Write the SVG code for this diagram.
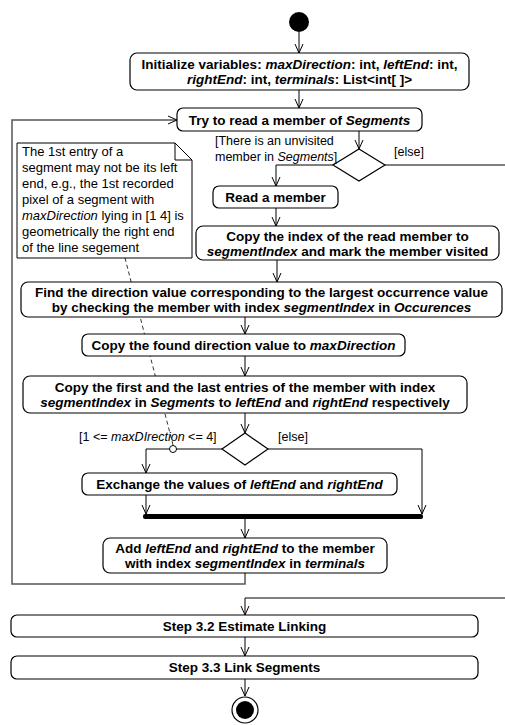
<svg xmlns="http://www.w3.org/2000/svg" width="505" height="725" viewBox="0 0 505 725">
<defs>
<marker id="arr" markerWidth="10" markerHeight="10" refX="9" refY="5" orient="auto" markerUnits="userSpaceOnUse">
<path d="M0,1 L9,5 L0,9" fill="none" stroke="#000" stroke-width="1"/>
</marker>
<style>
.box{fill:#fff;stroke:#000;stroke-width:1.2}
.t{font-family:"Liberation Sans",Arial,sans-serif;font-size:13.5px;font-weight:bold;text-anchor:middle;fill:#000}
.n{font-family:"Liberation Sans",Arial,sans-serif;font-size:13px;fill:#000}
.l{font-family:"Liberation Sans",Arial,sans-serif;font-size:12.5px;fill:#000}
.c{fill:none;stroke:#000;stroke-width:1}
.g{fill:none;stroke:#555;stroke-width:1.5}
.d{fill:none;stroke:#000;stroke-width:0.8;stroke-dasharray:4,3}
.dm{fill:#fff;stroke:#000;stroke-width:1.2}
</style>
</defs>
<rect width="505" height="725" fill="#fff"/>

<g id="connectors">
<path class="d" d="M125,258 L173,445"/>
<path class="c" d="M299,32 V53" marker-end="url(#arr)"/>
<path class="c" d="M299,90 V108" marker-end="url(#arr)"/>
<path class="c" d="M359,131 V149" marker-end="url(#arr)"/>
<path class="c" d="M333,165 H276 V186" marker-end="url(#arr)"/>
<path class="c" d="M385,165 H505"/>
<path class="c" d="M276,208 V226" marker-end="url(#arr)"/>
<path class="c" d="M277,260 V282" marker-end="url(#arr)"/>
<path class="c" d="M245,317 V334" marker-end="url(#arr)"/>
<path class="c" d="M245,356 V376" marker-end="url(#arr)"/>
<path class="c" d="M245,413 V433" marker-end="url(#arr)"/>
<path class="c" d="M222,449 H146 V473" marker-end="url(#arr)"/>
<path class="c" d="M268,449 H422 V514" marker-end="url(#arr)"/>
<path class="c" d="M146,495 V514" marker-end="url(#arr)"/>
<path class="c" d="M245,519 V538" marker-end="url(#arr)"/>
<path class="g" d="M245,573 V584 H12 V120 H150"/>
<path class="c" d="M150,120 H177" marker-end="url(#arr)"/>
<path class="c" d="M505,598 H245 V615" marker-end="url(#arr)"/>
<path class="c" d="M245,637 V656" marker-end="url(#arr)"/>
<path class="c" d="M245,679 V696" marker-end="url(#arr)"/>
<circle cx="173" cy="449" r="3.5" fill="#fff" stroke="#000" stroke-width="1"/>
</g>

<g id="start"><circle cx="299" cy="22" r="10" fill="#000"/></g>

<g id="init">
<rect class="box" x="130" y="53" width="339" height="37" rx="7"/>
<text class="t" x="299.5" y="69">Initialize variables: <tspan font-style="italic">maxDirection</tspan>: int, <tspan font-style="italic">leftEnd</tspan>: int,</text>
<text class="t" x="299.5" y="84"><tspan font-style="italic">rightEnd</tspan>: int, <tspan font-style="italic">terminals</tspan>: List&lt;int[ ]&gt;</text>
</g>

<g id="try">
<rect class="box" x="177" y="108" width="245" height="23" rx="6"/>
<text class="t" x="299.5" y="124.5">Try to read a member of <tspan font-style="italic">Segments</tspan></text>
</g>

<g id="note">
<path d="M17,143 H175 L192,160 V258 H17 Z" fill="#fff" stroke="#000" stroke-width="1"/>
<path d="M175,143 V160 H192" fill="none" stroke="#000" stroke-width="1"/>
<text class="n" x="22" y="156">The 1st entry of a</text>
<text class="n" x="22" y="172">segment may not be its left</text>
<text class="n" x="22" y="188">end, e.g., the 1st recorded</text>
<text class="n" x="22" y="204">pixel of a segment with</text>
<text class="n" x="22" y="220"><tspan font-style="italic">maxDirection</tspan> lying in [1 4] is</text>
<text class="n" x="22" y="236">geometrically the right end</text>
<text class="n" x="22" y="252">of the line segement</text>
</g>

<g id="decision1">
<path class="dm" d="M359,149 L385,165 L359,181 L333,165 Z"/>
<text class="l" x="215" y="145">[There is an unvisited</text>
<text class="l" x="215" y="161">member in <tspan font-style="italic">Segments</tspan>]</text>
<text class="l" x="394" y="156">[else]</text>
</g>

<g id="read">
<rect class="box" x="213" y="186" width="125" height="22" rx="6"/>
<text class="t" x="275.5" y="202">Read a member</text>
</g>

<g id="copyindex">
<rect class="box" x="196" y="226" width="303" height="34" rx="7"/>
<text class="t" x="347.5" y="241">Copy the index of the read member to</text>
<text class="t" x="347.5" y="256"><tspan font-style="italic">segmentIndex</tspan> and mark the member visited</text>
</g>

<g id="find">
<rect class="box" x="21" y="282" width="481" height="35" rx="7"/>
<text class="t" x="261.5" y="297">Find the direction value corresponding to the largest occurrence value</text>
<text class="t" x="261.5" y="312">by checking the member with index <tspan font-style="italic">segmentIndex</tspan> in <tspan font-style="italic">Occurences</tspan></text>
</g>

<g id="copyfound">
<rect class="box" x="82" y="334" width="323" height="22" rx="6"/>
<text class="t" x="243.5" y="350">Copy the found direction value to <tspan font-style="italic">maxDirection</tspan></text>
</g>

<g id="copyfirst">
<rect class="box" x="23" y="376" width="444" height="37" rx="7"/>
<text class="t" x="245" y="392">Copy the first and the last entries of the member with index</text>
<text class="t" x="245" y="407"><tspan font-style="italic">segmentIndex</tspan> in <tspan font-style="italic">Segments</tspan> to <tspan font-style="italic">leftEnd</tspan> and <tspan font-style="italic">rightEnd</tspan> respectively</text>
</g>

<g id="decision2">
<path class="dm" d="M245,433 L268,449 L245,465 L222,449 Z"/>
<text class="l" x="79" y="441">[1 &lt;= <tspan font-style="italic">maxDIrection</tspan> &lt;= 4]</text>
<text class="l" x="278" y="441">[else]</text>
</g>

<g id="exchange">
<rect class="box" x="82" y="473" width="315" height="22" rx="6"/>
<text class="t" x="239.5" y="489">Exchange the values of <tspan font-style="italic">leftEnd</tspan> and <tspan font-style="italic">rightEnd</tspan></text>
</g>

<g id="join">
<rect x="143" y="514" width="280" height="5" rx="2" fill="#000"/>
</g>

<g id="add">
<rect class="box" x="103" y="538" width="284" height="35" rx="7"/>
<text class="t" x="245" y="553">Add <tspan font-style="italic">leftEnd</tspan> and <tspan font-style="italic">rightEnd</tspan> to the member</text>
<text class="t" x="245" y="568">with index <tspan font-style="italic">segmentIndex</tspan> in <tspan font-style="italic">terminals</tspan></text>
</g>

<g id="step32">
<rect class="box" x="11" y="615" width="467" height="22" rx="6"/>
<text class="t" x="244.5" y="631">Step 3.2 Estimate Linking</text>
</g>

<g id="step33">
<rect class="box" x="11" y="656" width="467" height="23" rx="6"/>
<text class="t" x="244.5" y="672">Step 3.3 Link Segments</text>
</g>

<g id="end">
<circle cx="245" cy="710" r="13" fill="#fff" stroke="#000" stroke-width="1.2"/>
<circle cx="245" cy="710" r="9" fill="#000"/>
</g>
</svg>
